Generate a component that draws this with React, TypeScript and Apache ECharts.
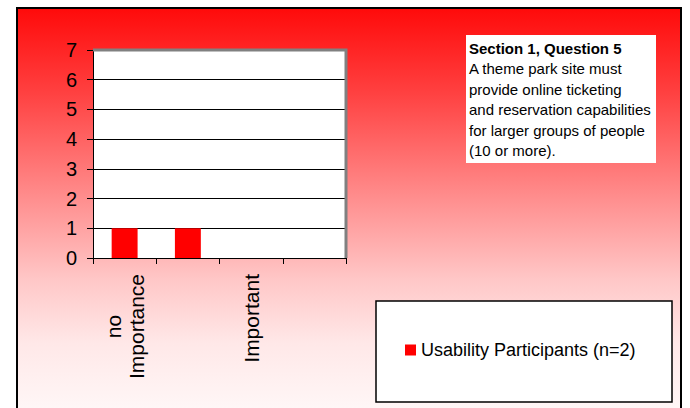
import React, { useEffect, useRef } from "react";
import * as echarts from "echarts";

const categories = ["no\nImportance", "", "Important", ""];
const participants = [1, 1, 0, 0];
const seriesName = "Usability Participants (n=2)";
const noteTitle = "Section 1, Question 5";
const noteLines = [
  "A theme park site must",
  "provide online ticketing",
  "and reservation capabilities",
  "for larger groups of people",
  "(10 or more).",
];
const yMin = 0;
const yMax = 7;
const yStep = 1;

const FONT = "'Liberation Sans', Arial, Helvetica, sans-serif";

export default function App() {
  const ref = useRef<HTMLDivElement>(null);
  useEffect(() => {
    if (!ref.current) return;
    const chart = echarts.init(ref.current, null, { renderer: "svg" });
    const noteText =
      "{b|" + noteTitle + "}\n" + noteLines.map((l) => "{n|" + l + "}").join("\n");
    chart.setOption({
      animation: false,
      textStyle: { fontFamily: FONT },
      grid: {
        left: 93,
        top: 50,
        right: 344,
        bottom: 150,
        show: true,
        backgroundColor: "#ffffff",
        borderWidth: 0,
      },
      xAxis: {
        type: "category",
        data: categories,
        boundaryGap: true,
        axisLine: { lineStyle: { color: "#000", width: 1 } },
        axisTick: { show: true, length: 6, inside: false, lineStyle: { color: "#000" } },
        axisLabel: {
          rotate: 90,
          margin: 16,
          interval: 0,
          color: "#000",
          fontSize: 21,
          fontFamily: FONT,
          formatter: (v: string) =>
            v
              .split("\n")
              .map((s) => "{c|" + s + "}")
              .join("\n"),
          rich: { c: { align: "center", fontSize: 21, fontFamily: FONT, color: "#000", lineHeight: 23 } },
        },
        splitLine: { show: false },
      },
      yAxis: {
        type: "value",
        min: yMin,
        max: yMax,
        interval: yStep,
        axisLine: { show: true, lineStyle: { color: "#000", width: 1 } },
        axisTick: { show: true, length: 6, inside: false, lineStyle: { color: "#000" } },
        axisLabel: { margin: 16, color: "#000", fontSize: 20, fontFamily: FONT },
        splitLine: { show: true, lineStyle: { color: "#000", width: 1 } },
      },
      legend: {
        show: true,
        z: 20,
        data: [seriesName],
        left: 405,
        top: 341,
        padding: 0,
        icon: "rect",
        itemWidth: 11,
        itemHeight: 11,
        itemGap: 5,
        textStyle: { fontSize: 18, color: "#000", fontFamily: FONT },
      },
      series: [
        {
          name: seriesName,
          type: "bar",
          data: participants,
          barWidth: "41%",
          itemStyle: { color: "#ff0000" },
        },
      ],
      graphic: [
        {
          type: "rect",
          z: -10,
          shape: { x: 17, y: 8, width: 664, height: 420 },
          style: {
            fill: new echarts.graphic.LinearGradient(0, 0, 0, 1, [
              { offset: 0, color: "#ff0a0a" },
              { offset: 0.2, color: "#ff4040" },
              { offset: 0.45, color: "#ff8d8d" },
              { offset: 0.65, color: "#ffc8c8" },
              { offset: 0.8, color: "#ffe8e8" },
              { offset: 1, color: "#fffbfb" },
            ]),
            stroke: "#000",
            lineWidth: 2,
          },
        },
        {
          type: "polyline",
          z: 10,
          shape: { points: [[93, 50], [346, 50], [346, 258]] },
          style: { stroke: "#808080", lineWidth: 3, fill: null },
        },
        {
          type: "rect",
          z: 5,
          shape: { x: 466, y: 35, width: 190, height: 128 },
          style: { fill: "#ffffff" },
        },
        {
          type: "text",
          z: 6,
          x: 469,
          y: 38,
          style: {
            text: noteText,
            fill: "#000",
            font: "15px " + FONT,
            rich: {
              b: { fontWeight: "bold", fontSize: 15, fontFamily: FONT, lineHeight: 20.5, fill: "#000" },
              n: { fontSize: 15, fontFamily: FONT, lineHeight: 20.5, fill: "#000" },
            },
          },
        },
        {
          type: "rect",
          z: 5,
          shape: { x: 376, y: 301, width: 296, height: 101 },
          style: { fill: "#ffffff", stroke: "#000", lineWidth: 1.5 },
        },
      ],
    });
    return () => chart.dispose();
  }, []);
  return (
    <div
      ref={ref}
      style={{ position: "absolute", left: 0, top: 0, width: 690, height: 408 }}
    />
  );
}
